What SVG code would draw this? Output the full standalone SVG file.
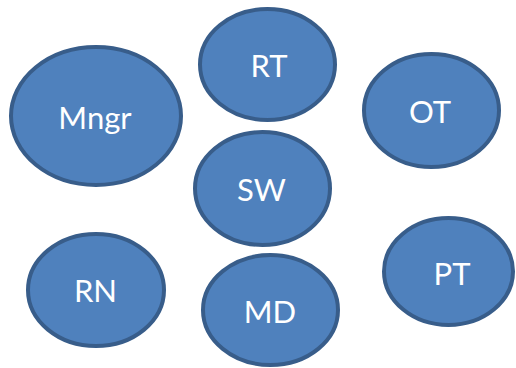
<svg xmlns="http://www.w3.org/2000/svg" width="516" height="368" viewBox="0 0 516 368">
<style>
.n{fill:#4F81BD;stroke:#385D8A;stroke-width:4}
.t{fill:#FFFFFF;font-family:Lato,"Liberation Sans",sans-serif;font-size:31px;text-anchor:middle}
</style>
<rect width="516" height="368" fill="#FFFFFF"/>
<g id="connectors"></g>
<g id="Mngr"><ellipse class="n" cx="96" cy="116" rx="85" ry="69"/><text class="t" x="95" y="129">Mngr</text></g>
<g id="RT"><ellipse class="n" cx="267.5" cy="64.5" rx="67.5" ry="55.5"/><text class="t" x="269" y="77">RT</text></g>
<g id="OT"><ellipse class="n" cx="431.5" cy="110.5" rx="67.5" ry="56.5"/><text class="t" x="430" y="122.5">OT</text></g>
<g id="SW"><ellipse class="n" cx="262.5" cy="188.5" rx="67.5" ry="56.5"/><text class="t" x="261.5" y="200.5">SW</text></g>
<g id="RN"><ellipse class="n" cx="96" cy="290" rx="68" ry="56"/><text class="t" x="95.5" y="301.5">RN</text></g>
<g id="MD"><ellipse class="n" cx="270.5" cy="310" rx="67.5" ry="55"/><text class="t" x="270" y="323">MD</text></g>
<g id="PT"><ellipse class="n" cx="448.5" cy="271.5" rx="64.5" ry="53.5"/><text class="t" x="452" y="285">PT</text></g>
</svg>
